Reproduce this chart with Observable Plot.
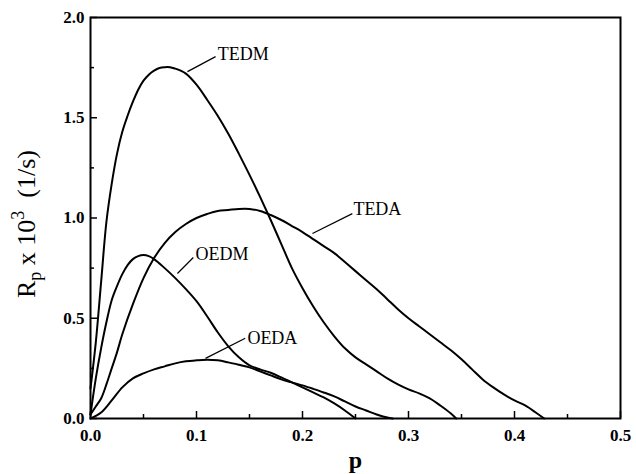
<!DOCTYPE html>
<html><head><meta charset="utf-8">
<script src="https://cdn.jsdelivr.net/npm/d3@7"></script>
<script src="https://cdn.jsdelivr.net/npm/@observablehq/plot@0.6"></script>
<style>body{margin:0;background:#fff}</style>
</head><body><div id="chart"></div>
<script>
// Series values: p (x) and Rp x 10^3 (y)
const pTEDM = [0,0.005,0.01,0.015,0.02,0.025,0.03,0.035,0.04,0.045,0.05,0.055,0.06,0.065,0.07,0.075,0.08,0.085,0.09,0.1,0.11,0.12,0.13,0.14,0.15,0.16,0.17,0.18,0.19,0.2,0.21,0.22,0.23,0.24,0.25,0.26,0.27,0.28,0.29,0.3,0.31,0.32,0.33,0.34,0.345];
const rTEDM = [0.15,0.38,0.68,0.98,1.17,1.32,1.43,1.51,1.58,1.64,1.685,1.715,1.735,1.748,1.752,1.752,1.745,1.735,1.72,1.665,1.59,1.51,1.42,1.32,1.215,1.105,0.99,0.87,0.75,0.65,0.56,0.48,0.41,0.35,0.305,0.27,0.235,0.2,0.17,0.145,0.125,0.1,0.065,0.025,0];

const pTEDA = [0,0.005,0.01,0.015,0.02,0.025,0.03,0.04,0.05,0.06,0.07,0.08,0.09,0.1,0.11,0.12,0.13,0.14,0.15,0.16,0.17,0.18,0.19,0.2,0.21,0.22,0.23,0.24,0.25,0.26,0.27,0.28,0.29,0.3,0.31,0.32,0.33,0.34,0.35,0.36,0.37,0.38,0.39,0.4,0.41,0.42,0.428];
const rTEDA = [0.02,0.06,0.1,0.17,0.25,0.33,0.42,0.57,0.7,0.8,0.875,0.93,0.97,1.0,1.02,1.035,1.04,1.045,1.045,1.035,1.015,0.99,0.96,0.93,0.895,0.86,0.825,0.78,0.735,0.69,0.645,0.595,0.545,0.5,0.46,0.42,0.38,0.34,0.295,0.245,0.195,0.155,0.12,0.09,0.065,0.03,0];

const pOEDM = [0,0.005,0.01,0.015,0.02,0.025,0.03,0.035,0.04,0.045,0.05,0.055,0.06,0.07,0.08,0.09,0.1,0.11,0.12,0.13,0.14,0.15,0.16,0.17,0.18,0.19,0.2,0.21,0.22,0.23,0.24,0.25];
const rOEDM = [0.02,0.2,0.35,0.48,0.59,0.66,0.72,0.765,0.795,0.81,0.815,0.81,0.795,0.75,0.70,0.645,0.585,0.51,0.43,0.36,0.305,0.265,0.245,0.228,0.205,0.18,0.155,0.13,0.105,0.075,0.04,0];

const pOEDA = [0,0.01,0.02,0.03,0.04,0.05,0.06,0.07,0.08,0.09,0.1,0.11,0.12,0.13,0.14,0.15,0.16,0.17,0.18,0.19,0.2,0.21,0.22,0.23,0.24,0.25,0.26,0.27,0.28,0.285];
const rOEDA = [0,0.03,0.09,0.155,0.2,0.225,0.245,0.26,0.275,0.285,0.29,0.293,0.29,0.28,0.268,0.255,0.235,0.215,0.195,0.18,0.165,0.148,0.13,0.11,0.085,0.06,0.04,0.02,0.005,0];

const seriesNames = ["TEDM","TEDA","OEDM","OEDA"];
const xMajor = [0,0.1,0.2,0.3,0.4,0.5];
const xMinor = [0.05,0.15,0.25,0.35,0.45];
const yMajor = [0,0.5,1.0,1.5,2.0];
const yMinor = [0.25,0.75,1.25,1.75];

// Curve labels: text anchor and leader line (data units)
const labelName = ["TEDM","TEDA","OEDM","OEDA"];
const labelX = [0.12,0.248,0.099,0.148];
const labelY = [1.818,1.042,0.82,0.40];
const leadX1 = [0.0915,0.2094,0.082,0.1085];
const leadY1 = [1.73,0.923,0.723,0.30];
const leadX2 = [0.118,0.247,0.097,0.146];
const leadY2 = [1.805,1.022,0.803,0.40];

const src = {TEDM:[pTEDM,rTEDM],TEDA:[pTEDA,rTEDA],OEDM:[pOEDM,rOEDM],OEDA:[pOEDA,rOEDA]};
const rows = seriesNames.flatMap(s => src[s][0].map((p,i)=>({series:s,p,r:src[s][1][i]})));
const labels = labelName.map((n,i)=>({n,x:labelX[i],y:labelY[i],x1:leadX1[i],y1:leadY1[i],x2:leadX2[i],y2:leadY2[i]}));

const chart = Plot.plot({
  width:636, height:474,
  marginLeft:90, marginRight:16, marginTop:17, marginBottom:56,
  style:{fontFamily:"'Liberation Serif', serif", fontSize:"17px", background:"white", color:"black"},
  x:{domain:[0,0.5]},
  y:{domain:[0,2]},
  marks:[
    Plot.axisX(xMajor,{tickSize:-7, tickPadding:17, tickFormat:d3.format(".1f"), label:null, strokeWidth:1.5, fontWeight:"bold"}),
    Plot.axisX(xMinor,{tickSize:-4, tickFormat:()=>"", label:null, strokeWidth:1.5}),
    Plot.axisY(yMajor,{tickSize:-7, tickPadding:13, tickFormat:d3.format(".1f"), label:null, strokeWidth:1.5, fontWeight:"bold"}),
    Plot.axisY(yMinor,{tickSize:-4, tickFormat:()=>"", label:null, strokeWidth:1.5}),
    Plot.frame({strokeWidth:2}),
    Plot.line(rows,{x:"p", y:"r", z:"series", stroke:"black", strokeWidth:2, curve:"catmull-rom"}),
    Plot.link(labels,{x1:"x1",y1:"y1",x2:"x2",y2:"y2",stroke:"black",strokeWidth:1.2}),
    Plot.text(labels,{x:"x",y:"y",text:"n",textAnchor:"start",fontSize:18}),
    Plot.text(["p"],{text:d=>d, frameAnchor:"bottom", dy:49, fontSize:24, fontWeight:"bold"})
  ]
});
document.getElementById("chart").appendChild(chart);

// Y axis title with subscript and superscript
const svg = d3.select(chart);
const t = svg.append("text")
  .attr("transform","translate(35,224) rotate(-90)")
  .attr("text-anchor","middle")
  .attr("font-family","'Liberation Serif', serif")
  .attr("font-size",26)
  .attr("fill","black");
t.append("tspan").text("R");
t.append("tspan").attr("font-size",18).attr("dy",6).text("p");
t.append("tspan").attr("dy",-6).text("\u00a0x 10");
t.append("tspan").attr("font-size",18).attr("dy",-11).text("3");
t.append("tspan").attr("dy",11).text("\u00a0\u00a0(1/s)");
</script>
</body></html>
